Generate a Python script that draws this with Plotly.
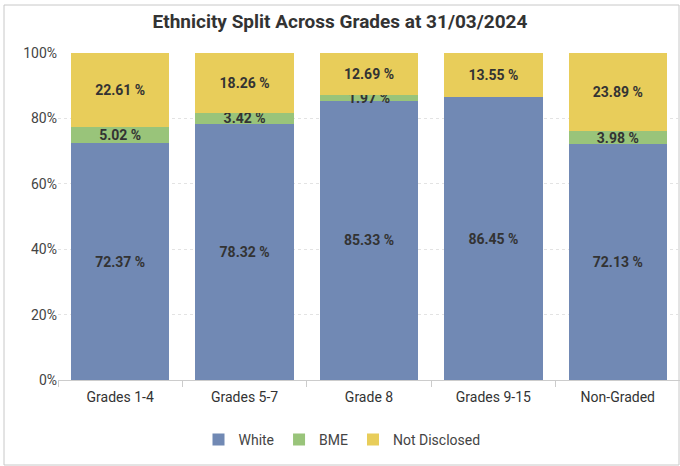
import plotly.graph_objects as go

categories = ["Grades 1-4", "Grades 5-7", "Grade 8", "Grades 9-15", "Non-Graded"]
white = [72.37, 78.32, 85.33, 86.45, 72.13]
bme = [5.02, 3.42, 1.97, 0.0, 3.98]
not_disclosed = [22.61, 18.26, 12.69, 13.55, 23.89]

series = [
    ("White", white, "#7189b4"),
    ("BME", bme, "#99c47a"),
    ("Not Disclosed", not_disclosed, "#e8cd5a"),
]

W, H = 680, 466
ML, MR, MT, MB = 58, 0, 53, 86
PW, PH = W - ML - MR, H - MT - MB

fig = go.Figure()
for name, vals, col in series:
    fig.add_trace(go.Bar(
        name=name, x=categories, y=vals, marker_color=col, marker_line_width=0,
        text=[f"{v:.2f} %" if v > 0 else "" for v in vals],
        textposition="inside", insidetextanchor="middle",
        textfont=dict(family="Roboto", size=14, color="#333333", weight="bold"),
        hoverinfo="skip",
    ))

fig.update_layout(
    width=W, height=H, barmode="stack", bargap=0.21,
    margin=dict(l=ML, r=MR, t=MT, b=MB, autoexpand=False),
    paper_bgcolor="white", plot_bgcolor="white",
    font=dict(family="Roboto", size=14, color="#444444"),
    uniformtext=dict(minsize=14, mode="show"),
    title=dict(text="Ethnicity Split Across Grades at 31/03/2024", x=0.5, xref="container",
               xanchor="center", y=1 - 21 / H, yanchor="middle",
               font=dict(family="Roboto", size=19, color="#333333", weight="bold")),
    legend=dict(orientation="h", x=(342 - ML) / PW, xanchor="center",
                y=-(440 - (H - MB)) / PH, yanchor="middle",
                font=dict(size=14, color="#444444"), traceorder="normal"),
    showlegend=True,
)
fig.update_yaxes(range=[0, 100], dtick=20, ticksuffix="%", showgrid=True,
                 gridcolor="#e3e3e3", griddash="dot", gridwidth=1, automargin=False,
                 zeroline=False, showline=False, ticks="", tickfont=dict(size=14, color="#444444"))
fig.update_xaxes(showline=True, linecolor="#cccccc", linewidth=1, ticks="outside",
                 tickson="boundaries", ticklen=6, tickcolor="#cccccc", automargin=False,
                 ticklabelstandoff=4, tickfont=dict(size=14, color="#333333"))

x0 = (4 - ML) / PW
x1 = (679 - ML) / PW
y0 = -(465 - MT - PH) / PH
y1 = 1 + (MT - 5) / PH
fig.add_shape(type="rect", xref="paper", yref="paper", x0=x0, x1=x1, y0=y0, y1=y1,
              line=dict(color="#c8c8c8", width=1), fillcolor="rgba(0,0,0,0)", layer="below")

fig.write_html("out.html", config={"displayModeBar": False},
               post_script="document.body.style.margin='0';")
